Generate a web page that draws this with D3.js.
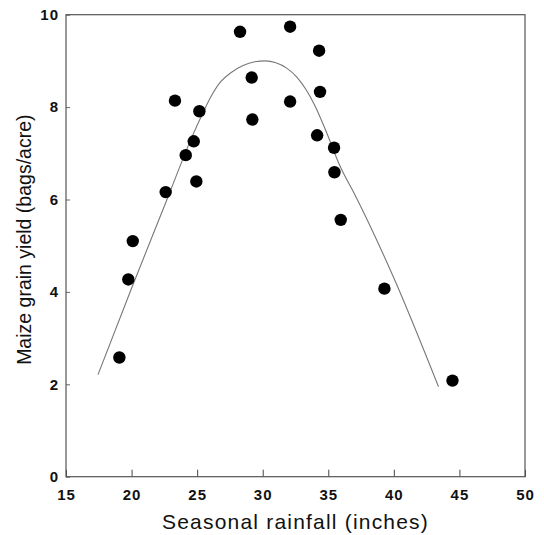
<!DOCTYPE html>
<html>
<head>
<meta charset="utf-8">
<script src="https://cdn.jsdelivr.net/npm/d3@7"></script>
<style>
  html, body { margin: 0; padding: 0; background: #fff; }
  svg { display: block; }
  .tick text { font-family: "Liberation Sans", Arial, sans-serif; font-weight: bold; font-size: 15px; letter-spacing: 1px; fill: #111; }
  .title { font-family: "Liberation Sans", Arial, sans-serif; fill: #111; }
</style>
</head>
<body>
<svg id="chart" width="544" height="535"></svg>
<script>
// Seasonal rainfall (inches) and maize grain yield (bags/acre) per site-season
const rainfall = [19.07, 19.75, 20.09, 22.60, 24.94, 24.13, 24.74, 25.17, 23.31,
                  29.21, 29.16, 28.27, 32.09, 32.09, 34.30, 34.37, 34.15, 35.44,
                  35.47, 35.95, 39.28, 44.47];
const yieldBags = [2.58, 4.27, 5.10, 6.16, 6.39, 6.96, 7.26, 7.91, 8.14,
                   7.73, 8.64, 9.63, 9.74, 8.12, 9.22, 8.33, 7.39, 7.12,
                   6.59, 5.56, 4.07, 2.08];

// Fitted response curve, traced as rainfall / yield pairs
const curveRain  = [17.44, 20.0, 22.7, 24.6, 25.4, 26.1, 26.8, 27.6, 28.5, 29.4, 30.2, 31.0, 31.8, 32.6, 33.3, 34.0, 34.8, 35.9, 37.0, 40.0, 43.4];
const curveYield = [2.21, 4.08, 6.0, 7.35, 7.85, 8.25, 8.55, 8.75, 8.9, 8.98, 9.0, 8.96, 8.85, 8.65, 8.38, 8.02, 7.5, 6.72, 6.12, 4.3, 1.95];

const xTicks = [15, 20, 25, 30, 35, 40, 45, 50];
const yTicks = [0, 2, 4, 6, 8, 10];

const svg = d3.select("#chart");
const plotLeft = 66, plotRight = 525, plotTop = 14.7, plotBottom = 476.7;

const x = d3.scaleLinear().domain([15, 50]).range([plotLeft, plotRight]);
const y = d3.scaleLinear().domain([0, 10]).range([plotBottom, plotTop]);

// x axis with inward ticks
const gx = svg.append("g")
  .attr("transform", `translate(0,${plotBottom})`)
  .call(d3.axisBottom(x).tickValues(xTicks).tickFormat(d3.format("d"))
        .tickSizeInner(-7).tickSizeOuter(0).tickPadding(20));
gx.select(".domain").remove();
gx.selectAll(".tick line").attr("stroke", "#444");
gx.selectAll(".tick text").attr("dy", "0.2em");

// y axis with inward ticks
const gy = svg.append("g")
  .attr("transform", `translate(${plotLeft},0)`)
  .call(d3.axisLeft(y).tickValues(yTicks).tickFormat(d3.format("d"))
        .tickSizeInner(-4).tickSizeOuter(0).tickPadding(7));
gy.select(".domain").remove();
gy.selectAll(".tick line").attr("stroke", "#666");

// plot frame
svg.append("rect")
  .attr("x", plotLeft).attr("y", plotTop)
  .attr("width", plotRight - plotLeft).attr("height", plotBottom - plotTop)
  .attr("fill", "none").attr("stroke", "#555").attr("stroke-width", 1.2);

// response curve
const curvePts = curveRain.map((r, i) => [r, curveYield[i]]);
svg.append("path")
  .datum(curvePts)
  .attr("fill", "none")
  .attr("stroke", "#777")
  .attr("stroke-width", 1.1)
  .attr("d", d3.line().x(d => x(d[0])).y(d => y(d[1])).curve(d3.curveMonotoneX));

// observations
svg.append("g").selectAll("circle")
  .data(rainfall.map((r, i) => [r, yieldBags[i]]))
  .join("circle")
  .attr("cx", d => x(d[0]))
  .attr("cy", d => y(d[1]))
  .attr("r", 6.2)
  .attr("fill", "#000");

// axis titles
svg.append("text").attr("class", "title")
  .attr("x", (plotLeft + plotRight) / 2).attr("y", 529)
  .attr("text-anchor", "middle")
  .style("font-size", "21px").style("letter-spacing", "1.2px")
  .text("Seasonal rainfall (inches)");

svg.append("text").attr("class", "title")
  .attr("transform", `translate(31,${(plotTop + plotBottom) / 2 - 6}) rotate(-90)`)
  .attr("text-anchor", "middle")
  .style("font-size", "19.5px")
  .text("Maize grain yield (bags/acre)");
</script>
</body>
</html>
